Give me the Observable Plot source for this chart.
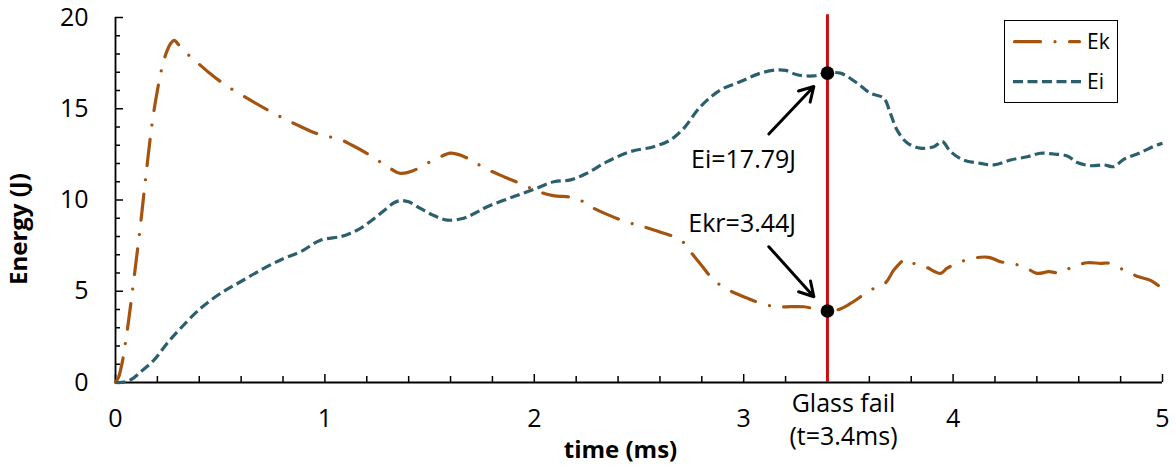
<!DOCTYPE html>
<html><head><meta charset="utf-8">
<script src="https://cdn.jsdelivr.net/npm/d3@7"></script>
<script src="https://cdn.jsdelivr.net/npm/@observablehq/plot@0.6"></script>
<style>
body{margin:0;background:#fff;}
#wrap{position:relative;width:1176px;height:468px;font-family:"Open Sans",sans-serif;}
#legend{position:absolute;left:1004px;top:20px;width:114px;height:83px;border:1.5px solid #000;box-sizing:border-box;background:#fff;}
#legend svg{position:absolute;left:-1.5px;top:-1.5px;}
</style></head><body><div id="wrap"></div>
<script>
// ---- data ----
const ekT = [0,0.015,0.032,0.048,0.065,0.083,0.1,0.115,0.143,0.175,0.2,0.223,0.247,0.265,0.28,0.295,0.319,0.374,0.45,0.525,0.64,0.756,0.87,0.979,1.066,1.13,1.2,1.29,1.361,1.42,1.47,1.54,1.6,1.66,1.71,1.775,1.86,1.95,2.02,2.09,2.2,2.27,2.35,2.44,2.52,2.6,2.7,2.746,2.8,2.857,2.93,3.0,3.11,3.176,3.287,3.39,3.446,3.51,3.605,3.677,3.717,3.773,3.81,3.868,3.94,3.97,4.02,4.09,4.17,4.226,4.274,4.34,4.4,4.457,4.513,4.569,4.64,4.704,4.75,4.815,4.887,4.94,5.0];
const ekE = [0,0.3,1.1,2.2,3.6,5.2,6.8,8.2,11.1,14.2,16.0,17.3,18.2,18.6,18.75,18.6,18.25,17.7,16.95,16.3,15.5,14.75,14.1,13.57,13.35,13.0,12.56,11.9,11.46,11.6,11.9,12.3,12.57,12.4,12.1,11.68,11.25,10.82,10.46,10.24,10.1,9.63,9.2,8.8,8.54,8.25,7.8,7.16,6.4,5.61,5.06,4.7,4.24,4.15,4.15,3.91,3.97,4.33,5.06,5.46,6.16,6.75,6.53,6.34,5.98,6.25,6.53,6.8,6.86,6.62,6.53,6.34,5.98,6.07,6.01,6.34,6.56,6.53,6.53,6.16,5.79,5.61,5.15];
const eiT = [0,0.04,0.08,0.12,0.183,0.246,0.31,0.406,0.501,0.597,0.708,0.804,0.883,0.979,1.074,1.12,1.17,1.22,1.28,1.33,1.361,1.4,1.456,1.52,1.584,1.663,1.72,1.775,1.9,2.01,2.093,2.173,2.25,2.348,2.459,2.57,2.65,2.714,2.794,2.889,2.985,3.08,3.16,3.2,3.255,3.335,3.398,3.462,3.542,3.605,3.669,3.7,3.732,3.78,3.844,3.908,3.948,3.988,4.05,4.13,4.194,4.274,4.354,4.417,4.48,4.545,4.593,4.656,4.72,4.768,4.815,4.895,4.975,5.0];
const eiE = [0,0.02,0.2,0.58,1.22,2.14,2.96,4.06,4.88,5.52,6.25,6.8,7.16,7.8,7.99,8.17,8.45,8.85,9.4,9.85,9.97,9.9,9.54,9.15,8.9,9.0,9.3,9.63,10.18,10.64,11.0,11.1,11.46,12.1,12.65,12.92,13.29,13.93,15.12,16.03,16.49,16.95,17.13,17.1,16.86,16.8,16.95,16.95,16.4,15.85,15.58,14.76,13.84,13.14,12.84,12.92,13.2,12.65,12.19,12.01,11.92,12.19,12.37,12.56,12.52,12.41,12.05,11.88,11.92,11.83,12.23,12.6,13.02,13.1];
const seriesNames = ["Ek", "Ei"];
const seriesColors = ["#a4540f", "#2c5f6d"];
const seriesDash = ["26,14.5,0.01,14.5", "10,4.5"];
const seriesCap = ["round", "butt"];
const yTicksMajor = [0, 5, 10, 15, 20];
const yTicksMinor = [1,2,3,4,6,7,8,9,11,12,13,14,16,17,18,19];
const xTicksMajor = [0, 1, 2, 3, 4, 5];
const xTicksMinor = [0.2,0.4,0.6,0.8,1.2,1.4,1.6,1.8,2.2,2.4,2.6,2.8,3.2,3.4,3.6,3.8,4.2,4.4,4.6,4.8];
const glassFailT = [3.4];
const glassFailLabel = ["Glass fail\n(t=3.4ms)"];
const markerT = [3.4, 3.4];
const markerE = [16.95, 3.92];
const annText = ["Ei=17.79J", "Ekr=3.44J"];
const annT = [3.25, 3.25];
const annE = [12.2, 8.68];
const arrowFromT = [3.12, 3.12];
const arrowFromE = [13.62, 7.44];
const arrowToT = [3.335, 3.335];
const arrowToE = [16.22, 4.70];
const xTitle = "time (ms)";
const yTitle = "Energy (J)";

// ---- build ----
const ek = ekT.map((t, i) => ({t, e: ekE[i]}));
const ei = eiT.map((t, i) => ({t, e: eiE[i]}));
const W = 1176, H = 468, mL = 115, mR = 14, mT = 17, mB = 86;
const msPerPx = 5 / (W - mL - mR);
const jPerPx = 20 / (H - mT - mB);
const font = "Open Sans";
const fs = 25;

const chart = Plot.plot({
  width: W, height: H,
  marginLeft: mL, marginRight: mR, marginTop: mT, marginBottom: mB,
  style: {fontFamily: font, fontSize: fs + "px", color: "#000", background: "#fff", overflow: "visible"},
  x: {domain: [0, 5]},
  y: {domain: [0, 20]},
  marks: [
    Plot.axisX({ticks: xTicksMajor, tickFormat: d => String(d), tickSize: 0, tickPadding: 27, label: null, fontSize: fs}),
    Plot.axisY({ticks: yTicksMajor, tickFormat: d => String(d), tickSize: 0, tickPadding: 27, label: null, fontSize: fs}),
    Plot.ruleY(yTicksMajor, {y: d => d, x1: 0, x2: 8 * msPerPx, stroke: "#000", strokeWidth: 1.5}),
    Plot.ruleY(yTicksMinor, {y: d => d, x1: 0, x2: 5 * msPerPx, stroke: "#000", strokeWidth: 1.5}),
    Plot.ruleX(xTicksMajor, {x: d => d, y1: 0, y2: 8 * jPerPx, stroke: "#000", strokeWidth: 1.5}),
    Plot.ruleX(xTicksMinor, {x: d => d, y1: 0, y2: 6 * jPerPx, stroke: "#000", strokeWidth: 1.5}),
    Plot.ruleY([0], {x1: 0, x2: 5, stroke: "#000", strokeWidth: 1.8}),
    Plot.ruleX([0], {y1: 0, y2: 20, stroke: "#000", strokeWidth: 1.8}),
    Plot.line(ek, {x: "t", y: "e", curve: "catmull-rom", stroke: seriesColors[0], strokeWidth: 3.2, strokeDasharray: seriesDash[0], strokeLinecap: seriesCap[0]}),
    Plot.line(ei, {x: "t", y: "e", curve: "catmull-rom", stroke: seriesColors[1], strokeWidth: 3.2, strokeDasharray: seriesDash[1], strokeLinecap: seriesCap[1]}),
    Plot.ruleX(glassFailT, {x: d => d, y1: 0, y2: 20.15, stroke: "#c81010", strokeWidth: 3}),
    Plot.dot(d3.range(markerT.length), {x: i => markerT[i], y: i => markerE[i], r: 6.8, fill: "#000"}),
    Plot.arrow(d3.range(arrowFromT.length), {x1: i => arrowFromT[i], y1: i => arrowFromE[i], x2: i => arrowToT[i], y2: i => arrowToE[i], stroke: "#000", strokeWidth: 3, headLength: 8}),
    Plot.text(d3.range(annText.length), {x: i => annT[i], y: i => annE[i], text: i => annText[i], textAnchor: "end", fontSize: fs, fill: "#000"}),
    Plot.text(glassFailLabel, {x: glassFailT[0], frameAnchor: "bottom", dx: 16, dy: 6.5, lineAnchor: "top", lineHeight: 1.3, fontSize: fs, fill: "#000"}),
    Plot.text([xTitle], {frameAnchor: "bottom", dx: -18.5, dy: 75, fontWeight: "bold", fontSize: 24, fill: "#000"}),
    Plot.text([yTitle], {frameAnchor: "left", dx: -96, dy: 85, rotate: -90, fontWeight: "bold", fontSize: 24, fill: "#000"})
  ]
});
const wrap = document.getElementById("wrap");
wrap.appendChild(chart);

// ---- legend ----
const leg = document.createElement("div");
leg.id = "legend";
const ns = "http://www.w3.org/2000/svg";
const ls = document.createElementNS(ns, "svg");
ls.setAttribute("width", 114); ls.setAttribute("height", 83);
const rowsY = [21.7, 61.7];
seriesNames.forEach((name, i) => {
  const ln = document.createElementNS(ns, "line");
  ln.setAttribute("x1", i === 0 ? 10.5 : 9); ln.setAttribute("x2", i === 0 ? 75.5 : 77);
  ln.setAttribute("y1", rowsY[i]); ln.setAttribute("y2", rowsY[i]);
  ln.setAttribute("stroke", seriesColors[i]); ln.setAttribute("stroke-width", 3.2);
  ln.setAttribute("stroke-dasharray", seriesDash[i]); ln.setAttribute("stroke-linecap", seriesCap[i]);
  ls.appendChild(ln);
  const tx = document.createElementNS(ns, "text");
  tx.setAttribute("x", 83); tx.setAttribute("y", rowsY[i]); tx.setAttribute("dy", "0.35em");
  tx.setAttribute("font-family", font); tx.setAttribute("font-size", 21);
  tx.textContent = name;
  ls.appendChild(tx);
});
leg.appendChild(ls);
wrap.appendChild(leg);
</script>
</body></html>
